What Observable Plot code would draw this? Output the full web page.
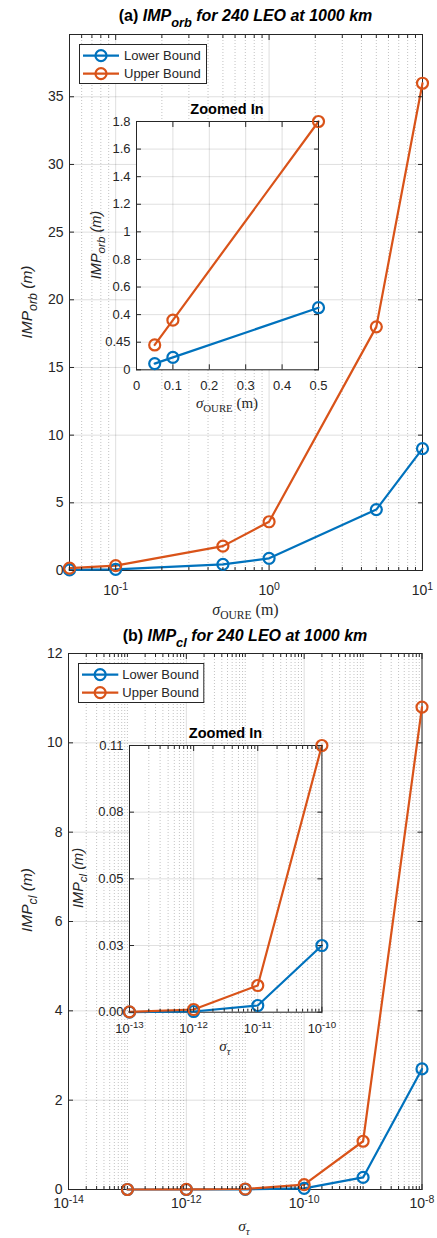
<!DOCTYPE html>
<html>
<head>
<meta charset="utf-8">
<script src="https://cdn.jsdelivr.net/npm/d3@7"></script>
<script src="https://cdn.jsdelivr.net/npm/@observablehq/plot@0.6"></script>
<style>
html,body{margin:0;padding:0;background:#fff;}
#root{position:relative;width:437px;height:1238px;overflow:hidden;font-family:"Liberation Sans",Arial,Helvetica,sans-serif;color:#262626;}
.lbl{position:absolute;white-space:nowrap;transform:translate(-50%,-50%);line-height:1;}
.rot{transform:translate(-50%,-50%) rotate(-90deg);}
.ttl{font-weight:bold;color:#000;}
.ttl sub{font-size:0.8em;vertical-align:-0.45em;line-height:0;}
.ylab{font-style:italic;}
.ylab sub{font-size:0.8em;vertical-align:-0.4em;line-height:0;}
.tex{font-family:"Liberation Serif","DejaVu Serif",serif;}
.tex sub{font-size:0.72em;vertical-align:-0.35em;line-height:0;}
</style>
</head>
<body>
<div id="root"></div>
<script>
// ---------- data ----------
const seriesNames = ["Lower Bound", "Upper Bound"];
const seriesColors = ["#0072BD", "#D95319"];

// (a) IMP_orb vs sigma_OURE
const orbSigma = [0.05, 0.1, 0.5, 1, 5, 10];
const orbLower = [0.045, 0.09, 0.45, 0.9, 4.5, 9.0];
const orbUpper = [0.18, 0.36, 1.8, 3.6, 18, 36];
const orbZoomSigma = [0.05, 0.1, 0.5];
const orbZoomLower = [0.045, 0.09, 0.45];
const orbZoomUpper = [0.18, 0.36, 1.8];

const orbXTicks = [0.1, 1, 10];
const orbXLabels = ["10^-1", "10^0", "10^1"];
const orbYTicks = [0, 5, 10, 15, 20, 25, 30, 35];
const orbYLabels = ["0", "5", "10", "15", "20", "25", "30", "35"];
const orbZoomXTicks = [0, 0.1, 0.2, 0.3, 0.4, 0.5];
const orbZoomXLabels = ["0", "0.1", "0.2", "0.3", "0.4", "0.5"];
const orbZoomYTicks = [0, 0.2, 0.4, 0.6, 0.8, 1.0, 1.2, 1.4, 1.6, 1.8];
const orbZoomYLabels = ["0", "0.45", "0.4", "0.6", "0.8", "1", "1.2", "1.4", "1.6", "1.8"];

// (b) IMP_cl vs sigma_tau
const clSigma = [1e-13, 1e-12, 1e-11, 1e-10, 1e-9, 1e-8];
const clLower = [0.000027, 0.00027, 0.0027, 0.027, 0.27, 2.7];
const clUpper = [0.000108, 0.00108, 0.0108, 0.108, 1.08, 10.8];
const clZoomSigma = [1e-13, 1e-12, 1e-11, 1e-10];
const clZoomLower = [0.000027, 0.00027, 0.0027, 0.027];
const clZoomUpper = [0.000108, 0.00108, 0.0108, 0.108];

const clXTicks = [1e-14, 1e-12, 1e-10, 1e-8];
const clXLabels = ["10^-14", "10^-12", "10^-10", "10^-8"];
const clYTicks = [0, 2, 4, 6, 8, 10, 12];
const clYLabels = ["0", "2", "4", "6", "8", "10", "12"];
const clZoomXTicks = [1e-13, 1e-12, 1e-11, 1e-10];
const clZoomXLabels = ["10^-13", "10^-12", "10^-11", "10^-10"];
const clZoomYTicks = [0, 0.027, 0.054, 0.081, 0.108];
const clZoomYLabels = ["0.00", "0.03", "0.05", "0.08", "0.11"];

// ---------- helpers ----------
const root = document.getElementById("root");
const NS = "http://www.w3.org/2000/svg";

function labelOf(ticks, labels) {
  return d => {
    const i = ticks.findIndex(t => Math.abs(t - d) <= 1e-9 * Math.max(Math.abs(t), 1e-30));
    return i < 0 ? "" : labels[i];
  };
}

function panel(o) {
  const M = 40;
  const r = o.rect;
  const W = r.x1 - r.x0, H = r.y1 - r.y0;
  const rows = [];
  o.lower.forEach((v, i) => rows.push({sigma: o.sigma[i], value: v, series: seriesNames[0]}));
  o.upper.forEach((v, i) => rows.push({sigma: o.sigma[i], value: v, series: seriesNames[1]}));
  let xMinor = [];
  if (o.xType === "log") {
    const all = d3.scaleLog().domain(o.xDomain).ticks();
    xMinor = all.filter(t => !o.xTicks.some(m => Math.abs(m - t) <= 1e-9 * m));
  }
  const tk = 5, mk = 3;
  const ax = {stroke: "#262626", strokeOpacity: 1, fill: "none", label: null};
  const marks = [
    o.inset ? Plot.frame({fill: "white", stroke: "none"}) : null,
    xMinor.length ? Plot.gridX(xMinor, {stroke: "#262626", strokeOpacity: 0.28, strokeDasharray: "1,2"}) : null,
    Plot.gridX(o.xTicks, {stroke: "#262626", strokeOpacity: 0.15}),
    Plot.gridY(o.yTicks, {stroke: "#262626", strokeOpacity: 0.15}),
    Plot.frame({stroke: "#262626", strokeWidth: 1}),
    Plot.line(rows, {x: "sigma", y: "value", z: "series", stroke: "series", strokeWidth: 2.2}),
    Plot.dot(rows, {x: "sigma", y: "value", stroke: "series", strokeWidth: 2.2, r: 5.5, fill: "none"}),
    Plot.axisX({...ax, ticks: o.xTicks, anchor: "bottom", tickSize: tk, dy: -tk}),
    Plot.axisX({...ax, ticks: o.xTicks, anchor: "top", tickSize: tk, dy: tk}),
    xMinor.length ? Plot.axisX({...ax, ticks: xMinor, anchor: "bottom", tickSize: mk, dy: -mk}) : null,
    xMinor.length ? Plot.axisX({...ax, ticks: xMinor, anchor: "top", tickSize: mk, dy: mk}) : null,
    Plot.axisY({...ax, ticks: o.yTicks, anchor: "left", tickSize: tk, dx: tk}),
    Plot.axisY({...ax, ticks: o.yTicks, anchor: "right", tickSize: tk, dx: -tk}),
    Plot.axisX({ticks: o.xTicks, anchor: "bottom", tickSize: 0, tickPadding: o.xPad,
      tickFormat: labelOf(o.xTicks, o.xLabels), fill: "#262626", fontSize: o.fs, label: null}),
    Plot.axisY({ticks: o.yTicks, anchor: "left", tickSize: 0, tickPadding: o.yPad,
      tickFormat: labelOf(o.yTicks, o.yLabels), fill: "#262626", fontSize: o.fs, label: null})
  ];
  const svg = Plot.plot({
    width: W + 2 * M, height: H + 2 * M,
    marginTop: M, marginRight: M, marginBottom: M, marginLeft: M,
    x: {type: o.xType, domain: o.xDomain},
    y: {type: "linear", domain: o.yDomain},
    color: {domain: seriesNames, range: seriesColors},
    style: {background: "transparent", overflow: "visible", fontFamily: "'Liberation Sans', Arial, sans-serif", maxWidth: "none"},
    marks
  });
  svg.style.position = "absolute";
  svg.style.left = (r.x0 - M) + "px";
  svg.style.top = (r.y0 - M) + "px";
  // superscript exponents for "10^k" labels
  svg.querySelectorAll("text").forEach(t => {
    if (t.children.length === 0 && t.textContent.includes("^")) {
      const [b, e] = t.textContent.split("^");
      t.textContent = "";
      const t1 = document.createElementNS(NS, "tspan");
      t1.textContent = b;
      const t2 = document.createElementNS(NS, "tspan");
      t2.textContent = e;
      t2.setAttribute("dy", "-0.55em");
      t2.style.fontSize = "0.75em";
      t.appendChild(t1); t.appendChild(t2);
    }
  });
  root.appendChild(svg);
}

function label(html, x, y, cls, fs) {
  const d = document.createElement("div");
  d.className = "lbl " + cls;
  d.style.left = x + "px";
  d.style.top = y + "px";
  d.style.fontSize = fs + "px";
  d.innerHTML = html;
  root.appendChild(d);
}

function legend(x, y, w, h, rowY, lx0, lx1, tx) {
  const svg = d3.create("svg")
    .attr("width", w + 2).attr("height", h + 2)
    .style("position", "absolute").style("left", (x - 1) + "px").style("top", (y - 1) + "px");
  svg.append("rect").attr("x", 1.5).attr("y", 1.5).attr("width", w - 1).attr("height", h - 1)
    .attr("fill", "white").attr("stroke", "#262626").attr("stroke-width", 1);
  seriesNames.forEach((n, i) => {
    const yy = rowY[i] - y + 1;
    svg.append("line").attr("x1", lx0 - x + 1).attr("x2", lx1 - x + 1).attr("y1", yy).attr("y2", yy)
      .attr("stroke", seriesColors[i]).attr("stroke-width", 2.2);
    svg.append("circle").attr("cx", (lx0 + lx1) / 2 - x + 1).attr("cy", yy).attr("r", 5.5)
      .attr("fill", "none").attr("stroke", seriesColors[i]).attr("stroke-width", 2.2);
    svg.append("text").attr("x", tx - x + 1).attr("y", yy).attr("dy", "0.36em")
      .attr("font-family", "'Liberation Sans', Arial, sans-serif").attr("font-size", 13)
      .attr("fill", "#262626").text(n);
  });
  root.appendChild(svg.node());
}

// ---------- (a) ----------
panel({rect: {x0: 69, x1: 422, y0: 34, y1: 570}, xType: "log", xDomain: [0.05, 10], yDomain: [0, 39.6],
  xTicks: orbXTicks, xLabels: orbXLabels, yTicks: orbYTicks, yLabels: orbYLabels,
  sigma: orbSigma, lower: orbLower, upper: orbUpper, fs: 14, xPad: 15, yPad: 6});
legend(79, 44, 128, 40, [55.7, 73.7], 83, 119, 124);
panel({rect: {x0: 136, x1: 318, y0: 120.7, y1: 369}, xType: "linear", xDomain: [0, 0.5], yDomain: [0, 1.8],
  xTicks: orbZoomXTicks, xLabels: orbZoomXLabels, yTicks: orbZoomYTicks, yLabels: orbZoomYLabels,
  sigma: orbZoomSigma, lower: orbZoomLower, upper: orbZoomUpper, fs: 13, xPad: 11, yPad: 6, inset: true});

label("(a) <i>IMP<sub>orb</sub> for 240 LEO at 1000 km</i>", 245.5, 16, "ttl", 16);
label("<i>IMP<sub>orb</sub> (m)</i>", 27, 302, "ylab rot", 15.5);
label("<span class='tex'><i>σ</i><sub>OURE</sub> (m)</span>", 245.5, 610, "", 16);
label("Zoomed In", 227, 108.5, "ttl", 14.5);
label("<i>IMP<sub>orb</sub> (m)</i>", 96, 245, "ylab rot", 14.5);
label("<span class='tex'><i>σ</i><sub>OURE</sub> (m)</span>", 227, 403, "", 15);

// ---------- (b) ----------
panel({rect: {x0: 67.5, x1: 421, y0: 653.3, y1: 1189.3}, xType: "log", xDomain: [1e-14, 1e-8], yDomain: [0, 12],
  xTicks: clXTicks, xLabels: clXLabels, yTicks: clYTicks, yLabels: clYLabels,
  sigma: clSigma, lower: clLower, upper: clUpper, fs: 14, xPad: 9, yPad: 6});
legend(77.7, 662.7, 126.3, 40, [674.3, 692.3], 81.7, 118, 122);
panel({rect: {x0: 129.3, x1: 321.7, y0: 745, y1: 1011.7}, xType: "log", xDomain: [1e-13, 1e-10], yDomain: [0, 0.108],
  xTicks: clZoomXTicks, xLabels: clZoomXLabels, yTicks: clZoomYTicks, yLabels: clZoomYLabels,
  sigma: clZoomSigma, lower: clZoomLower, upper: clZoomUpper, fs: 13, xPad: 12, yPad: 6, inset: true});

label("(b) <i>IMP<sub>cl</sub> for 240 LEO at 1000 km</i>", 245, 635.5, "ttl", 16);
label("<i>IMP<sub>cl</sub> (m)</i>", 27, 900, "ylab rot", 15.5);
label("<span class='tex'><i>σ</i><sub><i>τ</i></sub></span>", 244, 1226, "", 15.5);
label("Zoomed In", 225.5, 733, "ttl", 14.5);
label("<i>IMP<sub>cl</sub> (m)</i>", 78, 878, "ylab rot", 14.5);
label("<span class='tex'><i>σ</i><sub><i>τ</i></sub></span>", 225, 1046, "", 15);
</script>
</body>
</html>
